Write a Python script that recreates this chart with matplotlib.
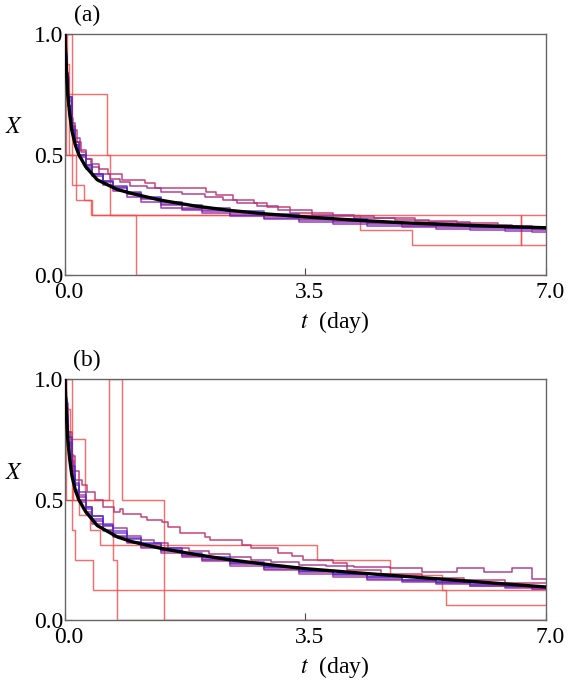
import matplotlib
matplotlib.use("Agg")
from matplotlib import pyplot as plt
from matplotlib.transforms import ScaledTranslation

plt.rcParams['font.family'] = ['Liberation Serif', 'DejaVu Serif']
plt.rcParams['mathtext.fontset'] = 'stix'

# common time grid for the dense (large N) runs
t_grid = [0, 0.01, 0.025, 0.05, 0.1, 0.15, 0.2, 0.3, 0.4, 0.55, 0.7, 0.9, 1.1, 1.4,
          1.7, 2.0, 2.4, 2.9, 3.4, 3.9, 4.4, 4.9, 5.4, 5.9, 6.4, 6.8]

# mean curve (black)
t_mean = [0, 0.01, 0.025, 0.04, 0.07, 0.1, 0.15, 0.2, 0.3, 0.47, 0.76, 0.975, 1.4, 1.9,
          2.4, 2.9, 3.5, 4.2, 4.9, 5.6, 6.3, 7.0]
x_mean_a = [1.0, 0.92, 0.83, 0.75, 0.665, 0.60, 0.54, 0.50, 0.45, 0.395, 0.355, 0.338,
            0.31, 0.286, 0.268, 0.254, 0.241, 0.228, 0.217, 0.209, 0.202, 0.196]
x_mean_b = [1.0, 0.92, 0.83, 0.75, 0.665, 0.60, 0.54, 0.50, 0.45, 0.392, 0.345, 0.325,
            0.297, 0.272, 0.250, 0.232, 0.213, 0.197, 0.182, 0.167, 0.152, 0.137]

# ---- panel (a) ----
# small N runs (red)
ra1_t = [0, 0.01]
ra1_x = [1.0, 0.5]
ra2_t = [0, 0.03, 0.61, 0.66, 1.04]
ra2_x = [1.0, 0.75, 0.5, 0.25, 0.0]
ra3_t = [0, 0.10, 0.27, 0.39, 4.29, 5.05, 6.63]
ra3_x = [1.0, 0.375, 0.3125, 0.25, 0.1875, 0.125, 0.25]
ra4_t = [0, 0.005, 0.06, 0.16, 0.38, 6.63]
ra4_x = [1.0, 0.875, 0.5, 0.3125, 0.25, 0.125]

# medium N runs (magenta)
ma1_t = [0, 0.015, 0.03, 0.05, 0.08, 0.12, 0.17, 0.23, 0.3, 0.38, 0.5, 0.62, 0.83, 1.17,
         1.31, 2.05, 2.2, 2.45, 2.75, 2.94, 3.27, 3.9, 4.5, 5.1, 5.7, 6.3, 6.8]
ma1_x = [1.0, 0.9, 0.8, 0.7, 0.65, 0.6, 0.55, 0.51, 0.48, 0.46, 0.44, 0.42, 0.394, 0.383,
         0.36, 0.345, 0.33, 0.311, 0.30, 0.283, 0.259, 0.245, 0.235, 0.225, 0.215, 0.205, 0.195]
ma2_t = [0, 0.01, 0.03, 0.06, 0.1, 0.15, 0.22, 0.3, 0.4, 0.5, 0.65, 0.8, 0.95, 1.2, 1.4,
         1.7, 2.04, 2.3, 2.5, 2.8, 3.1, 3.6, 4.2, 4.8, 5.3, 5.9, 6.5]
ma2_x = [1.0, 0.92, 0.82, 0.7, 0.63, 0.57, 0.52, 0.48, 0.45, 0.42, 0.4, 0.385, 0.37, 0.36,
         0.345, 0.335, 0.322, 0.31, 0.30, 0.285, 0.27, 0.25, 0.238, 0.228, 0.218, 0.208, 0.2]

# large N runs (purple / blue)
pa1_x = [1.0, 0.9, 0.83, 0.72, 0.6, 0.54, 0.49, 0.44, 0.41, 0.375, 0.35, 0.325, 0.305, 0.28,
         0.268, 0.258, 0.246, 0.232, 0.222, 0.212, 0.204, 0.198, 0.192, 0.187, 0.183, 0.18]
pa2_x = [1.0, 0.91, 0.84, 0.74, 0.62, 0.55, 0.5, 0.45, 0.42, 0.385, 0.36, 0.335, 0.315, 0.29,
         0.275, 0.265, 0.25, 0.238, 0.228, 0.22, 0.212, 0.205, 0.199, 0.194, 0.19, 0.186]
pa3_x = [1.0, 0.89, 0.82, 0.73, 0.61, 0.55, 0.5, 0.455, 0.42, 0.39, 0.365, 0.34, 0.318, 0.295,
         0.28, 0.27, 0.256, 0.244, 0.234, 0.225, 0.216, 0.209, 0.203, 0.198, 0.193, 0.19]
pa4_x = [1.0, 0.91, 0.84, 0.74, 0.6, 0.54, 0.5, 0.455, 0.42, 0.39, 0.37, 0.345, 0.325, 0.305,
         0.29, 0.28, 0.265, 0.252, 0.242, 0.232, 0.222, 0.214, 0.207, 0.201, 0.197, 0.193]

# ---- panel (b) ----
rb1_t = [0, 0.015, 0.645, 0.825, 1.44]
rb1_x = [1.0, 0.5, 1.0, 0.5, 0.0]
rb2_t = [0, 0.10, 0.15, 0.41]
rb2_x = [1.0, 0.375, 0.25, 0.125]
rb3_t = [0, 0.01, 0.07, 0.29, 0.70, 0.76]
rb3_x = [1.0, 0.875, 0.75, 0.5, 0.25, 0.0]
rb4_t = [0, 0.02, 0.05, 0.12, 0.2, 0.36, 0.51, 3.67, 4.73, 5.48, 5.55]
rb4_x = [1.0, 0.8125, 0.6875, 0.5, 0.4375, 0.375, 0.3125, 0.25, 0.1875, 0.125, 0.0625]

mb1_t = [0, 0.02, 0.05, 0.1, 0.15, 0.2, 0.25, 0.32, 0.44, 0.55, 0.71, 0.8, 0.85, 1.1, 1.2,
         1.41, 1.5, 1.68, 2.04, 2.11, 2.57, 2.7, 3.1, 3.3, 3.47, 3.9, 4.1, 4.6, 5.2, 5.8, 6.4]
mb1_x = [1.0, 0.9, 0.78, 0.68, 0.62, 0.58, 0.56, 0.53, 0.498, 0.47, 0.45, 0.46, 0.44, 0.429,
         0.415, 0.408, 0.385, 0.36, 0.346, 0.332, 0.311, 0.30, 0.28, 0.265, 0.249, 0.235, 0.207,
         0.19, 0.175, 0.165, 0.155]
mb2_t = [0, 0.015, 0.04, 0.08, 0.13, 0.2, 0.3, 0.4, 0.55, 0.7, 0.9, 1.1, 1.3, 1.5, 1.8, 2.1,
         2.4, 2.7, 3.0, 3.4, 3.8, 4.2, 4.73, 5.2, 5.7, 6.1, 6.5, 6.8]
mb2_x = [1.0, 0.88, 0.78, 0.66, 0.58, 0.52, 0.47, 0.43, 0.4, 0.38, 0.35, 0.33, 0.32, 0.3,
         0.285, 0.275, 0.26, 0.25, 0.24, 0.23, 0.225, 0.22, 0.214, 0.2, 0.214, 0.2, 0.214, 0.17]

pb1_x = [1.0, 0.9, 0.83, 0.73, 0.6, 0.54, 0.5, 0.45, 0.41, 0.375, 0.35, 0.325, 0.305, 0.285,
         0.265, 0.25, 0.232, 0.212, 0.198, 0.185, 0.172, 0.162, 0.152, 0.143, 0.136, 0.13]
pb2_x = [1.0, 0.91, 0.84, 0.74, 0.62, 0.56, 0.51, 0.46, 0.42, 0.39, 0.36, 0.335, 0.315, 0.29,
         0.27, 0.255, 0.236, 0.218, 0.202, 0.19, 0.178, 0.167, 0.156, 0.147, 0.14, 0.135]
pb3_x = [1.0, 0.89, 0.82, 0.72, 0.59, 0.53, 0.49, 0.44, 0.40, 0.37, 0.345, 0.318, 0.3, 0.278,
         0.26, 0.245, 0.226, 0.208, 0.193, 0.18, 0.168, 0.158, 0.148, 0.14, 0.133, 0.128]
pb4_x = [1.0, 0.92, 0.85, 0.76, 0.64, 0.57, 0.53, 0.47, 0.43, 0.395, 0.37, 0.34, 0.32, 0.3,
         0.28, 0.262, 0.24, 0.222, 0.205, 0.19, 0.177, 0.166, 0.157, 0.148, 0.141, 0.136]

T_END = 7.0
RED = '#ff4444'
MAG1 = '#c0306a'
MAG2 = '#a8308a'
PURPLES = ['#8a1aa8', '#7420c0', '#9a2a95', '#4a30d8']

panels = [
    ('(a)', [(ra1_t, ra1_x), (ra2_t, ra2_x), (ra3_t, ra3_x), (ra4_t, ra4_x)],
     [(ma1_t, ma1_x), (ma2_t, ma2_x)], [pa1_x, pa2_x, pa3_x, pa4_x], x_mean_a),
    ('(b)', [(rb1_t, rb1_x), (rb2_t, rb2_x), (rb3_t, rb3_x), (rb4_t, rb4_x)],
     [(mb1_t, mb1_x), (mb2_t, mb2_x)], [pb1_x, pb2_x, pb3_x, pb4_x], x_mean_b),
]


def step(ax, t, x, **kw):
    # hold last value up to the end of the window
    ax.step(list(t) + [T_END], list(x) + [x[-1]], where='post', **kw)


fig = plt.figure(figsize=(5.72, 6.87), dpi=100)
boxes = [[0.1136, 0.5997, 0.8409, 0.3508], [0.1136, 0.0975, 0.8409, 0.3508]]

for box, (tag, reds, mags, purps, mean) in zip(boxes, panels):
    ax = fig.add_axes(box)
    for t, x in reds:
        step(ax, t, x, color=RED, lw=1.0, alpha=0.8, zorder=2)
    for (t, x), c in zip(mags, [MAG1, MAG2]):
        step(ax, t, x, color=c, lw=1.1, alpha=0.9, zorder=3)
    for x, c in zip(purps, PURPLES):
        step(ax, t_grid, x, color=c, lw=1.1, alpha=0.85, zorder=4)
    ax.plot(t_mean, mean, color='black', lw=2.4, zorder=5)

    ax.set_xlim(0, 7.0)
    ax.set_ylim(0, 1.0)
    ax.set_xticks([0.0, 3.5, 7.0])
    ax.set_xticklabels(['0.0', '3.5', '7.0'])
    ax.set_yticks([0.0, 0.5, 1.0])
    ax.set_yticklabels(['0.0', '0.5', '1.0'])
    ax.tick_params(direction='in', length=5, width=0.8, color='#444444', labelsize=17)
    ax.tick_params(axis='y', pad=1)
    ax.tick_params(axis='x', pad=5)
    shift = ScaledTranslation(4 / 100, 0, fig.dpi_scale_trans)
    for lab in ax.get_xticklabels():
        lab.set_transform(lab.get_transform() + shift)
    for s in ax.spines.values():
        s.set_color('#666666')
        s.set_linewidth(1.0)
    ax.text(-0.105, 0.61, r'$X$', transform=ax.transAxes, fontsize=17,
            ha='center', va='center')
    ax.text(0.56, -0.195, r'$t$  (day)', transform=ax.transAxes, fontsize=17,
            ha='center', va='center')
    ax.text(0.046, 1.079, tag, transform=ax.transAxes, fontsize=17,
            ha='center', va='center')

plt.savefig('out.png', dpi=100)
plt.close()
